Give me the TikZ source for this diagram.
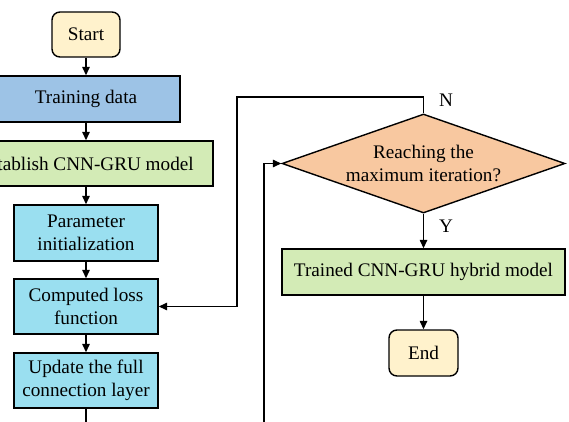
\documentclass[tikz,border=0pt]{standalone}
\usepackage{fontspec}
\setmainfont{Liberation Serif}
\usetikzlibrary{shapes.geometric,arrows.meta}
\definecolor{cyellow}{HTML}{FFF2CC}
\definecolor{cblue}{HTML}{9DC3E6}
\definecolor{cgreen}{HTML}{D3EBB6}
\definecolor{ccyan}{HTML}{9ADFF0}
\definecolor{corange}{HTML}{F8C8A0}
\begin{document}
\begin{tikzpicture}[x=1pt,y=-1pt,
  base/.style={draw=black, line width=1.4pt, inner sep=0pt, align=center,
    font=\fontsize{19.2}{23}\selectfont},
  term/.style={base, fill=cyellow, rounded corners=8pt},
  proc/.style={base, rectangle},
  dec/.style={base, diamond, fill=corange, aspect=2.86},
  conn/.style={line width=1.4pt, -{Triangle[length=8.5pt,width=7.5pt]}},
  plain/.style={line width=1.4pt},
  lbl/.style={font=\fontsize{19.2}{23}\selectfont}]
\useasboundingbox (0,0) rectangle (569,422);
\clip (0,0) rectangle (569,422);
\node[term, minimum width=68pt, minimum height=45pt] (start) at (86,34.5) {Start};
\node[proc, fill=cblue, minimum width=188pt, minimum height=46pt] (train) at (86,99) {Training data};
\node[proc, fill=cgreen, minimum width=254pt, minimum height=45pt] (est) at (86,163.5) {Establish CNN-GRU model};
\node[proc, fill=ccyan, minimum width=144pt, minimum height=56pt] (param) at (86,233) {Parameter\\initialization};
\node[proc, fill=ccyan, minimum width=144pt, minimum height=55pt] (loss) at (86,306.5) {Computed loss\\function};
\node[proc, fill=ccyan, minimum width=144pt, minimum height=55pt] (upd) at (86,380.5) {Update the full\\connection layer};
\node[dec, minimum width=283pt, minimum height=99pt] (dia) at (423.5,163.5) {Reaching the\\maximum iteration?};
\node[proc, fill=cgreen, minimum width=283pt, minimum height=46pt] (trained) at (423.5,272) {Trained CNN-GRU hybrid model};
\node[term, minimum width=69pt, minimum height=46pt] (end) at (423.5,353) {End};
\coordinate (updend) at (86,425);
\coordinate (loopin) at (264,425);
\coordinate (nturn) at (423.5,97);
\coordinate (nleft) at (237,97);
\draw[conn] (start) -- (train);
\draw[conn] (train) -- (est);
\draw[conn] (est) -- (param);
\draw[conn] (param) -- (loss);
\draw[conn] (loss) -- (upd);
\draw[plain] (upd.south) -- (updend);
\draw[conn] (loopin) |- (dia.west);
\draw[conn] (dia.north) -- (nturn) -- (nleft) |- (loss.east);
\draw[conn] (dia.south) -- (trained.north);
\draw[conn] (trained) -- (end);
\node[lbl] (nlab) at (446,100) {N};
\node[lbl] (ylab) at (446,226) {Y};
\end{tikzpicture}
\end{document}
